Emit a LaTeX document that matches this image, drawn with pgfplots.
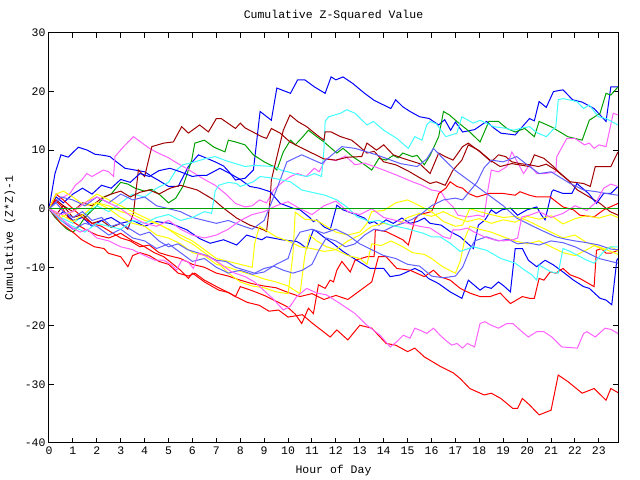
\documentclass[border=0pt]{standalone}
\usepackage{pgfplots}
\pgfplotsset{compat=1.18}
\usepackage{fontspec}
\newfontfamily\gp{Liberation Mono}
\newcommand{\gpf}{\gp\fontsize{11.5}{12}\selectfont}
\definecolor{gpred}{RGB}{255,0,0}
\definecolor{gpdred}{RGB}{160,0,0}
\definecolor{gpgreen}{RGB}{0,160,0}
\definecolor{gpblue}{RGB}{0,0,255}
\definecolor{gplblue}{RGB}{96,96,255}
\definecolor{gpmag}{RGB}{255,96,255}
\definecolor{gpcyan}{RGB}{64,255,255}
\definecolor{gpyel}{RGB}{255,255,0}
\begin{document}
\begin{tikzpicture}
\begin{axis}[name=ax, width=569pt, height=410pt, scale only axis,
  xmin=0, xmax=23.8, ymin=-40, ymax=30,
  xtick={0,1,...,23}, ytick={-40,-30,...,30},
  tick align=inside, major tick length=5pt,
  axis line style={black, line width=1pt}, tick style={black, line width=1pt},
  ticklabel style={font=\gpf}, /pgf/number format/assume math mode=true,
  every axis plot/.append style={line width=1pt, no markers, line join=miter},
  clip=true]
% B1 blue
\addplot[gpblue] coordinates {(0,0) (0.25,6) (0.5,9.2) (0.8,8.8) (1.0,9.6) (1.23,10.5) (1.6,10) (1.92,9.3) (2.3,9.1) (2.55,8.9) (2.76,8.2) (3.18,6.9) (3.6,6.6) (4.0,6.3) (4.3,5.5) (4.6,4.8) (5.0,3.8) (5.4,3.8) (5.83,7.2) (6.25,9.2) (6.6,8.6) (6.95,8.0) (7.3,7.3) (7.55,6.2) (7.8,4.9) (8.2,5.2) (8.55,6.6) (8.83,16.6) (9.3,15.1) (9.53,20.6) (10.1,19.7) (10.4,22.0) (10.7,22.0) (11.1,20.8) (11.55,19.7) (11.8,22.5) (12.0,22.0) (12.3,22.5) (12.7,21.4) (13.2,19.7) (13.6,18.5) (14.0,17.7) (14.3,17.1) (14.5,18.6) (14.8,17.4) (15.1,16.6) (15.5,15.7) (15.9,15.4) (16.3,14.3) (16.55,15.2) (16.8,13.4) (17.0,14.8) (17.3,13.1) (17.8,13.5) (18.3,14.9) (18.6,13.8) (18.9,12.9) (19.5,12.6) (20.1,15.4) (20.3,15.0) (20.5,18.3) (20.8,17.3) (21.1,20.0) (21.5,20.3) (21.9,18.6) (22.3,18.2) (22.8,17.1) (23.3,14.9) (23.5,20.8) (23.8,20.8)};
% G1 green
\addplot[gpgreen] coordinates {(0,0) (0.25,-1.5) (0.5,-2.5) (0.75,-3.5) (1.0,-4) (1.25,-3) (1.5,-1.5) (1.75,-0.5) (2.0,0.5) (2.3,2) (2.6,2.5) (3.0,4.5) (3.3,4.2) (3.6,3.5) (4.0,3.0) (4.3,3.3) (4.6,2.5) (5.0,1.0) (5.3,1.8) (5.6,3.8) (5.97,8.3) (6.1,11.2) (6.5,11.7) (6.9,10.5) (7.36,9.7) (7.5,11.7) (7.8,11.4) (8.2,10.9) (8.55,9.2) (9.0,8.0) (9.4,7.2) (9.53,6.6) (9.8,9.7) (10.1,11.7) (10.3,10.9) (10.6,12.2) (10.85,13.4) (11.2,12.3) (11.5,11.4) (12.04,9.5) (12.3,10.3) (12.7,8.9) (13.1,7.8) (13.5,6.6) (13.8,8.6) (14.1,8.3) (14.4,9.1) (14.6,8.7) (14.8,9.5) (15.2,8.9) (15.4,9.1) (15.7,7.5) (15.94,9.1) (16.3,12.3) (16.5,16.6) (16.75,16.0) (17.06,14.9) (17.6,13.1) (18.03,11.4) (18.4,14.9) (18.8,14.9) (19.15,13.7) (19.5,13.1) (19.9,13.7) (20.3,12.3) (20.5,14.9) (21.0,14.0) (21.7,12.3) (22.3,11.7) (22.6,15.1) (23.05,16.3) (23.3,19.7) (23.5,19.4) (23.8,20.8)};
% M1 magenta
\addplot[gpmag] coordinates {(0,0) (0.25,1) (0.5,1.8) (0.88,2.6) (1.1,4) (1.37,4.9) (1.58,6) (1.8,5.5) (2.27,6.6) (2.5,6.3) (2.7,5.5) (2.76,8.9) (3.1,10.5) (3.53,12.3) (3.9,11.2) (4.2,10.3) (4.57,9.5) (5.0,8.7) (5.27,8.0) (5.7,7.0) (6.1,6.0) (6.5,5.0) (6.95,4.0) (7.4,2.5) (7.8,0.9) (8.2,0.3) (8.5,0.5) (8.8,1.5) (9.1,1.0) (9.4,3.2) (9.75,4.5) (10.1,5.5) (10.4,6.0) (10.75,5.5) (11.1,6.9) (11.3,6.3) (11.6,8.6) (12.0,8.2) (12.4,9.0) (12.8,7.5) (13.2,7.8) (13.6,7.2) (14.0,6.6) (14.5,5.8) (15.2,4.6) (15.6,4.0) (16.0,3.2) (16.4,2.9) (16.6,1.5) (16.9,0.3) (17.1,-1.1) (17.5,-1.4) (17.96,-1.1) (18.2,-1.4) (18.35,3) (18.5,6.6) (18.8,6.3) (19.15,7.2) (19.36,9.7) (19.85,6.0) (20.1,7.5) (20.4,6.0) (20.75,6.0) (21.2,6.3) (21.24,8.9) (21.66,12.0) (22.0,12.0) (22.4,10.9) (22.6,11.2) (22.8,10.3) (23.0,10.9) (23.3,10.6) (23.6,16.3) (23.8,16.0)};
% C1 cyan
\addplot[gpcyan] coordinates {(0,0) (0.5,-1.5) (1.0,-2.5) (1.5,-1) (2.0,0.5) (2.5,-0.5) (3.0,1) (3.5,2.5) (4.0,2) (4.5,3.5) (5.0,4.5) (5.3,6.5) (5.6,7.5) (6.1,8.0) (6.5,8.5) (6.95,8.9) (7.4,8.2) (7.8,7.7) (8.2,7.2) (8.6,7.4) (9.0,7.3) (9.4,7.2) (9.7,6.6) (10.0,6.3) (10.4,5.8) (10.8,5.5) (11.1,6.0) (11.4,5.5) (11.5,10) (11.55,14.9) (11.7,15.7) (12.2,16.3) (12.45,16.9) (12.8,16.3) (13.3,14.3) (13.57,14.9) (14.0,13.4) (14.55,12.0) (15.03,10.3) (15.3,12.3) (15.6,11.7) (15.8,14.3) (15.94,14.9) (16.2,14.5) (16.6,12.3) (17.06,12.9) (17.27,15.7) (17.75,14.6) (18.03,15.1) (18.6,14.0) (19.0,13.8) (19.43,13.4) (19.8,13.8) (20.1,14.0) (20.4,13.0) (20.8,12.3) (21.2,14.0) (21.3,18.6) (21.5,18.8) (22.08,18.3) (22.36,17.1) (22.6,17.7) (22.98,15.7) (23.3,15.4) (23.8,14.3)};
% DR1 dark red
\addplot[gpdred] coordinates {(0,0) (0.3,1.5) (0.6,0.5) (1.0,-1.5) (1.4,-1) (1.8,-2.5) (2.2,-2) (2.6,-3.2) (3.0,-2.5) (3.3,-3.5) (3.53,-0.8) (3.74,6.6) (4.0,5.5) (4.3,10.6) (4.8,11.2) (5.2,11.4) (5.55,14.0) (5.83,12.9) (6.3,14.3) (6.67,13.1) (7.0,15.4) (7.2,15.4) (7.8,13.7) (8.0,14.6) (8.2,13.8) (8.9,12.3) (9.1,12.0) (9.3,13.7) (9.67,12.9) (10.08,11.4) (10.5,10.5) (11.0,9.5) (11.5,8.5) (12.0,8.3) (12.5,8.8) (13.08,8.9) (13.3,11.2) (13.7,10.0) (14.0,10.9) (14.4,9.2) (14.8,8.6) (15.5,7.7) (15.94,6.0) (16.3,9.5) (16.57,8.9) (16.9,8.3) (17.3,10.6) (17.54,11.2) (18.03,9.7) (18.5,8.0) (18.8,9.2) (19.1,8.9) (19.36,8.0) (19.7,7.7) (20.1,7.5) (20.47,7.2) (20.8,7.6) (21.2,6.6) (21.7,4.9) (22.1,3.2) (22.6,2.0) (23.05,0.9) (23.47,-0.5) (23.8,-1.1)};
% DR2 dark red
\addplot[gpdred] coordinates {(0,0) (0.3,-1) (0.6,0.5) (1.0,-0.5) (1.4,1) (1.8,0.5) (2.2,1.8) (2.6,2.5) (3.0,3.0) (3.4,2.0) (3.8,2.8) (4.2,3.2) (4.6,2.5) (5.06,3.5) (5.5,4.0) (5.85,3.6) (6.2,3.2) (6.9,1.5) (7.3,0.1) (7.85,-1.6) (8.4,-2.8) (8.97,-3.6) (9.1,-3.9) (9.25,1.5) (9.3,4.9) (9.5,8.3) (9.8,13.4) (10.08,16.0) (10.4,14.9) (10.78,14.0) (11.2,12.6) (11.5,11.7) (11.55,13.1) (11.8,13.1) (12.2,12.3) (12.66,11.7) (12.9,10.9) (13.3,9.5) (13.6,9.8) (14.0,8.0) (14.5,7.5) (15.0,6.5) (15.5,5.3) (15.94,4.3) (16.2,4.6) (16.57,4.0) (16.9,6.6) (17.27,8.3) (17.54,10.9) (17.96,10.0) (18.45,8.3) (18.87,7.2) (19.36,7.7) (20.1,7.2) (20.3,9.2) (20.7,8.6) (21.1,7.2) (21.4,6.0) (21.8,4.6) (22.36,4.3) (22.64,3.8) (22.85,7.2) (23.5,7.2) (23.8,9.7)};
% B2 blue
\addplot[gpblue] coordinates {(0,0) (0.3,2) (0.6,1) (1.0,2.5) (1.4,3.5) (1.8,2.5) (2.2,4) (2.6,3.5) (3.0,5) (3.4,4.5) (3.8,6) (4.2,5.5) (4.6,6.5) (5.06,6.9) (5.5,6.3) (6.0,5.5) (6.3,5.7) (6.6,5.7) (7.15,6.9) (7.57,6.0) (8.0,5.0) (8.4,3.8) (8.8,3.5) (9.25,2.9) (9.67,0.9) (10.2,0.1) (10.5,-0.2) (10.9,-1.5) (11.06,-2.2) (11.2,-1.9) (11.5,-3.1) (11.76,-3.6) (12.04,0.6) (12.3,-0.2) (12.7,-0.8) (13.2,-1.6) (13.4,-2.5) (13.6,-2.2) (13.8,-2.8) (14.1,-1.9) (14.4,-2.5) (14.76,-1.6) (15.1,-2.5) (15.4,-2.2) (15.7,-1.6) (15.94,-2.5) (16.4,-2.8) (16.78,-3.9) (17.2,-4.8) (17.75,-6.8) (17.96,-2.8) (18.24,-1.9) (18.5,-0.2) (18.7,-0.8) (18.94,-0.2) (19.3,0.1) (19.6,-1.1) (19.99,-0.2) (20.4,0.3) (20.6,-1.1) (20.75,-1.9) (21.03,2.9) (21.1,3.2) (21.5,2.6) (21.87,2.6) (22.08,4.3) (22.57,2.6) (22.9,0.9) (23.2,2.6) (23.5,2.6) (23.8,3.8)};
% B3 blue
\addplot[gpblue] coordinates {(0,0) (0.3,-1.5) (0.6,-0.5) (1.0,-2) (1.4,-1.5) (1.8,-3) (2.2,-2) (2.6,-1.5) (3.0,-2.5) (3.5,-2) (4.0,-3) (4.5,-2.2) (5.06,-2.5) (5.4,-3) (5.76,-3.6) (6.3,-5.1) (6.74,-5.9) (7.3,-5.3) (7.85,-6.2) (8.27,-4.5) (8.9,-5.3) (9.1,-4.8) (9.74,-5.3) (10.36,-5.6) (10.5,-5.9) (10.78,-6.8) (11.06,-3.6) (11.2,-3.9) (11.48,-4.8) (11.9,-6.0) (12.3,-7.3) (12.87,-8.8) (13.43,-10.2) (14.0,-10.2) (14.27,-11.6) (14.7,-11.3) (15.3,-10.2) (15.6,-10.8) (15.87,-11.9) (16.3,-12.8) (16.78,-14.2) (17.27,-15.3) (17.54,-12.2) (18.03,-13.9) (18.24,-13.3) (18.5,-13.6) (18.8,-12.5) (19.0,-13.1) (19.3,-14.2) (19.5,-6.8) (19.8,-6.8) (20.05,-8.8) (20.4,-9.9) (20.75,-8.8) (21.1,-9.6) (21.5,-10.8) (21.94,-12.2) (22.36,-13.3) (22.6,-13.6) (23.05,-15.3) (23.3,-15.6) (23.54,-16.4) (23.75,-8.8) (23.8,-8.5)};
% R1 red
\addplot[gpred] coordinates {(0,0) (0.5,-2.5) (1.0,-4) (1.37,-5.3) (1.9,-6.5) (2.3,-6.8) (2.48,-7.6) (3.0,-8.2) (3.3,-9.9) (3.5,-8) (3.8,-7.5) (4.2,-8) (4.6,-9) (5.0,-9.5) (5.4,-11) (5.83,-11.5) (6.1,-11) (6.5,-12.2) (7.1,-13.5) (7.5,-14.3) (7.8,-15) (8.3,-16) (8.8,-16.5) (9.2,-17.5) (9.6,-17.3) (10.0,-18.5) (10.6,-18.1) (11.0,-19.5) (11.76,-21.9) (12.04,-20.7) (12.5,-22.4) (13.0,-19.9) (13.5,-20.4) (14.1,-23) (14.5,-23.3) (15.0,-24.4) (15.3,-23.8) (15.7,-25.3) (16.4,-27) (16.9,-28) (17.2,-29) (17.6,-30.7) (18.2,-31.8) (18.5,-31.5) (18.9,-32.4) (19.4,-34.1) (19.6,-34.1) (19.8,-32.4) (20.1,-33.5) (20.5,-35.2) (21.0,-34.4) (21.3,-28.4) (21.7,-29.5) (22.3,-31.5) (22.8,-30.7) (23.3,-32.7) (23.5,-30.7) (23.8,-31.4)};
% R2 red
\addplot[gpred] coordinates {(0,0) (0.25,1.5) (0.5,0.5) (0.8,-1.5) (1.1,-2.5) (1.5,-3.5) (2.0,-4.5) (2.5,-5.0) (3.0,-4.2) (3.5,-5.5) (4.0,-6.5) (4.4,-7.5) (4.8,-8.2) (5.2,-9.5) (5.5,-10.5) (5.83,-11.9) (6.0,-11.0) (6.5,-12.5) (7.1,-13.9) (7.5,-14.3) (7.8,-15.0) (8.0,-13.3) (8.5,-14.0) (9.0,-14.8) (9.4,-15.6) (9.95,-16.7) (10.3,-18.0) (10.57,-19.6) (10.85,-17) (11.06,-17.9) (11.27,-13) (11.55,-13.6) (11.76,-12.2) (11.9,-12.5) (12.04,-10.5) (12.25,-9) (12.6,-10.8) (12.8,-8.8) (13.3,-8.2) (13.6,-8.2) (13.65,-3.6) (14.1,-3.9) (14.55,-4.8) (14.8,-5.3) (15.03,-6.2) (15.3,-1.9) (15.45,-1.1) (15.7,-0.8) (16.0,-0.5) (16.15,0.9) (16.3,2.6) (16.6,3.5) (16.78,4.6) (17.06,3.8) (17.3,3.5) (17.54,2.6) (17.9,2.0) (18.4,2.6) (19.0,2.6) (19.5,2.3) (19.7,2.9) (20.1,2.3) (20.4,2.0) (20.96,2.0) (21.5,0.3) (21.94,-0.2) (22.2,-1.1) (22.8,-1.4) (23.2,-0.2) (23.8,0.9)};
% R3 red
\addplot[gpred] coordinates {(0,0) (0.3,2.5) (0.6,1.5) (1.0,0) (1.4,-1.5) (1.8,-2.5) (2.2,-3) (2.6,-4) (3.0,-5) (3.4,-5.5) (3.8,-6.5) (4.2,-6.2) (4.6,-7.5) (5.0,-8) (5.5,-8.5) (6.0,-9.5) (6.5,-10) (7.0,-11) (7.5,-11.5) (8.0,-12.2) (8.5,-12.8) (9.0,-13.2) (9.5,-13.5) (10.0,-14.3) (10.5,-15) (11.0,-14.5) (11.5,-15.5) (12.0,-14.8) (12.5,-15.5) (13.0,-14) (13.5,-12.5) (13.78,-8.2) (14.1,-8.2) (14.55,-10.2) (15.1,-10.5) (15.7,-11.6) (16.08,-10.5) (16.36,-11.6) (16.78,-12.2) (17.2,-13.6) (17.6,-14.4) (18.03,-15.0) (18.45,-15.0) (18.87,-14.4) (19.3,-16.2) (19.8,-15.0) (20.1,-15.3) (20.3,-15.3) (20.5,-11.9) (20.7,-12.2) (20.96,-10.8) (21.2,-11.0) (21.5,-10.2) (21.8,-11.3) (22.2,-11.9) (22.8,-13.3) (22.9,-7.1) (23.1,-6.8) (23.3,-7.6) (23.5,-7.6) (23.8,-7.1)};
% Y1 yellow
\addplot[gpyel] coordinates {(0,0) (0.3,2.5) (0.6,3) (1.0,2) (1.5,0.5) (2.0,1) (2.5,0) (3.0,-1.5) (3.5,-2.5) (4.0,-3) (4.5,-4.5) (5.0,-5) (5.5,-6) (6.0,-7.5) (6.5,-8) (7.0,-9.5) (7.5,-10) (8.0,-10.7) (8.5,-11.3) (9.0,-12) (9.5,-12.5) (10.0,-13.2) (10.3,-14) (10.5,-14.5) (10.7,-8) (10.9,-4.5) (11.2,-5.5) (11.6,-6.5) (12.0,-7) (12.5,-8) (13.0,-8.5) (13.3,-9.5) (13.5,-6) (13.9,-6.3) (14.3,-5.5) (14.8,-6.5) (15.2,-7.5) (15.7,-7.8) (16.0,-8.5) (16.5,-10) (17.0,-11) (17.2,-9) (17.4,-5) (17.6,-3) (18.0,-3.5) (18.5,-4) (19.0,-4.8) (19.5,-5.5) (20.0,-6) (20.5,-5.5) (21.0,-6.5) (21.5,-7.5) (22.0,-8) (22.5,-7) (22.8,-6.3) (23.2,-7) (23.5,-6.5) (23.8,-7.2)};
% Y2 yellow
\addplot[gpyel] coordinates {(0,0) (0.5,-1) (1.0,-2.2) (1.5,-0.8) (2.0,1) (2.5,0.5) (3.0,-0.5) (3.5,-1) (4.0,-2) (4.5,-2.5) (5.0,-3.5) (5.5,-4.5) (6.0,-5.5) (6.5,-7) (7.0,-8.5) (7.5,-9) (8.0,-9.5) (8.5,-10) (8.6,-6) (8.8,-3) (9.0,-3.5) (9.5,-4.8) (10.0,-5.5) (10.5,-6.5) (11.0,-6.8) (11.5,-7.3) (12.0,-7) (12.5,-5.5) (13.0,-4.5) (13.5,-3) (14.0,-2.5) (14.5,-3) (15.0,-1.5) (15.5,-0.8) (16.0,-1.3) (16.5,-0.5) (17.0,-1.5) (17.5,-2.2) (18.0,-1.7) (18.5,-2.5) (19.0,-1.9) (19.5,-2.3) (20.0,-1.3) (20.5,-1.8) (21.0,-1.2) (21.5,-2.6) (22.0,-1.7) (22.5,-1.2) (23.0,-1.6) (23.5,-1.0) (23.8,-1.5)};
% Y3 yellow
\addplot[gpyel] coordinates {(0,0) (0.5,-1.5) (1.0,-0.5) (1.5,1) (2.0,2.5) (2.5,1.5) (3.0,0.5) (3.5,-0.5) (4.0,-1.5) (4.5,-2.5) (5.0,-3.5) (5.5,-5) (6.0,-6) (6.5,-7.5) (7.0,-9) (7.5,-11) (8.0,-12.5) (8.5,-13.2) (9.0,-13.5) (9.5,-14.2) (10.0,-14.5) (10.2,-8) (10.3,-0.6) (10.7,-1.8) (11.2,-2) (11.6,-3) (12.0,-4) (12.5,-4.5) (13.0,-4) (13.3,-2.5) (13.5,-0.5) (14.0,-0.3) (14.5,1) (15.0,1.5) (15.5,0.5) (16.0,-0.5) (16.5,-2.2) (17.0,-3) (17.3,-2.8) (17.6,0) (18.0,-0.5) (18.5,-1) (19.0,-1.5) (19.5,-1.3) (20.0,-2) (20.5,-3) (21.0,-4) (21.5,-5) (22.0,-4.5) (22.5,-5.8) (23.0,-6.5) (23.5,-7.3) (23.8,-7.8)};
% LB1 light blue
\addplot[gplblue] coordinates {(0,0) (0.3,1) (0.6,-0.5) (1.0,-1.5) (1.4,-0.5) (1.8,-2) (2.2,-1.5) (2.6,-3) (3.0,-2.5) (3.4,-3.5) (3.8,-4.5) (4.2,-4) (4.6,-5.5) (5.0,-6.5) (5.4,-6) (5.8,-7) (6.2,-7.5) (6.6,-8) (7.0,-8.8) (7.4,-9) (7.8,-10) (8.2,-10.5) (8.6,-11) (9.0,-10.2) (9.4,-9.8) (9.8,-10.5) (10.2,-11) (10.6,-10.5) (11.0,-9.5) (11.3,-7) (11.6,-5) (12.0,-5.5) (12.4,-6.5) (12.8,-6) (13.2,-4.5) (13.6,-3.5) (14.0,-3.8) (14.4,-3) (14.8,-2.5) (15.2,-1.8) (15.6,-0.8) (16.0,0.5) (16.5,1.5) (17.0,1.8) (17.3,1.5) (17.6,3) (17.9,4.5) (18.2,7) (18.5,8.3) (19.0,8.0) (19.56,8.9) (20.1,7.2) (20.5,6.0) (21.0,6.3) (21.8,4.3) (22.36,3.2) (22.9,2.9) (23.3,2.6) (23.8,2.3)};
% LB2 light blue
\addplot[gplblue] coordinates {(0,0) (0.5,2) (1.0,1.5) (1.5,0.5) (2.0,2) (2.5,1) (3.0,2.5) (3.5,1.5) (4.0,2) (4.5,0.5) (5.0,0) (5.5,-0.5) (6.0,-1.5) (6.5,-2) (7.0,-2.5) (7.5,-2) (8.0,-2.8) (8.5,-3.5) (9.0,-2) (9.3,1) (9.67,4.9) (9.95,8.0) (10.57,9.2) (11.4,7.7) (12.25,10.6) (12.8,10.3) (13.7,9.2) (14.7,7.7) (15.4,7.2) (15.8,8.5) (16.08,10.3) (16.5,8.5) (17.0,6.5) (17.9,3.8) (18.5,2.0) (19.0,0.5) (19.56,-1.6) (20.0,-2.5) (20.5,-3.5) (21.2,-4.8) (21.6,-5.2) (22.0,-5.5) (22.5,-5.8) (23.0,-6.2) (23.5,-6.9) (23.8,-7.0)};
% LB3 light blue
\addplot[gplblue] coordinates {(0,0) (0.5,-2) (1.0,-3.5) (1.5,-2.5) (2.0,-3) (2.5,-4.5) (3.0,-3.5) (3.5,-5) (4.0,-5.5) (4.5,-6.8) (5.0,-6) (5.5,-7.5) (6.0,-9) (6.5,-8.5) (7.0,-10) (7.5,-11) (8.0,-10.5) (8.5,-11.2) (9.0,-10.8) (9.5,-9.5) (10.0,-8.5) (10.2,-6) (10.5,-4) (11.0,-3.5) (11.5,-4.2) (12.0,-3.5) (12.5,-4.5) (13.0,-6) (13.5,-7) (14.0,-8) (14.5,-8.5) (15.0,-9.5) (15.5,-9.8) (16.0,-11.5) (16.5,-11.8) (17.0,-11.5) (17.3,-10) (17.6,-7) (17.8,-5.5) (18.3,-4.8) (18.8,-5.5) (19.2,-5.2) (19.6,-6) (20.0,-5.8) (20.5,-6.2) (21.0,-5.5) (21.5,-5.8) (22.0,-6.5) (22.5,-7.5) (23.0,-8.5) (23.5,-9) (23.8,-9.3)};
% C2 cyan
\addplot[gpcyan] coordinates {(0,0) (0.5,-2) (1.0,-3) (1.5,-4) (2.0,-2.5) (2.5,-3) (3.0,-3.5) (3.5,-2) (4.0,-2.5) (4.5,-1.5) (5.0,-1) (5.5,-2) (6.0,-1.5) (6.5,-0.5) (6.8,-0.8) (6.95,3) (7.1,4) (7.5,4.5) (7.85,4.3) (8.0,3.8) (8.55,4.6) (8.83,5.5) (9.4,5.2) (10.1,4.6) (10.57,3.2) (11.0,2.8) (11.55,2.3) (12.04,1.5) (12.46,0.3) (12.9,-1.4) (13.43,-2.2) (13.8,-2.0) (14.27,-2.8) (14.97,-3.4) (15.66,-4.2) (16.0,-4.8) (16.36,-4.8) (16.78,-5.9) (17.2,-7.3) (17.75,-6.5) (18.3,-7.1) (18.9,-8.5) (19.5,-9.3) (19.9,-10.5) (20.2,-11.3) (20.4,-12.2) (20.5,-9.6) (21.0,-10.8) (21.3,-11.0) (21.5,-6.8) (21.8,-7.3) (22.5,-8.8) (22.8,-9.3) (23.2,-7.3) (23.5,-6.5) (23.8,-6.5)};
% M2 magenta
\addplot[gpmag] coordinates {(0,0) (0.3,-1) (0.6,-2) (1.0,-3.3) (1.3,-4) (1.6,-3.5) (2.0,-5) (2.5,-5.5) (3.0,-6.5) (3.5,-7) (4.0,-8) (4.44,-8.8) (4.8,-8.8) (5.13,-9.6) (5.34,-10.5) (5.55,-8.8) (5.8,-9) (6.04,-10.2) (6.25,-7.6) (6.67,-8.2) (7.1,-9.2) (7.64,-10.8) (8.2,-11.6) (8.6,-12.5) (9.0,-14) (9.4,-15.5) (9.8,-17.3) (10.08,-16.7) (10.36,-15.0) (10.78,-13.6) (11.2,-14.4) (11.6,-14.7) (12.18,-16.2) (12.8,-17.9) (13.3,-19.9) (13.85,-21.6) (14.27,-23.6) (14.55,-22.7) (14.82,-21.6) (15.1,-22.1) (15.3,-20.4) (15.55,-20.8) (15.8,-21.3) (16.08,-20.4) (16.36,-21.6) (16.57,-22.4) (16.85,-23.3) (17.06,-23.0) (17.3,-23.8) (17.5,-23.0) (17.8,-23.6) (18.03,-19.6) (18.24,-19.3) (18.5,-19.9) (18.8,-20.4) (19.15,-19.6) (19.4,-19.6) (19.7,-20.7) (20.05,-21.9) (20.4,-21.0) (20.7,-21.0) (21.03,-21.9) (21.45,-23.6) (22.1,-23.8) (22.36,-21.3) (22.5,-21.0) (22.85,-21.9) (23.26,-20.4) (23.5,-20.6) (23.8,-21.3)};
% M4 magenta
\addplot[gpmag] coordinates {(0,0) (0.5,-1) (1.0,-0.5) (1.5,1) (2.0,2) (2.5,1) (3.0,0) (3.5,-1.5) (4.0,-2.5) (4.5,-3) (5.0,-2) (5.5,-3.5) (6.0,-4.5) (6.5,-5) (7.0,-4.5) (7.5,-3.5) (8.0,-2) (8.5,-1) (9.0,-0.5) (9.5,0.5) (10.0,1.2) (10.5,0) (11.0,-1) (11.5,0.5) (12.0,1.3) (12.5,-0.5) (13.0,-1) (13.5,0) (14.0,-1.5) (14.5,-2) (15.0,-2.5) (15.5,-3) (15.94,-3.3) (16.5,-4.8) (16.78,-5.1) (16.9,-3.6) (17.2,-3.6) (17.5,-3.3) (17.75,-3.9) (18.2,-4.8) (18.6,-5.3) (19.0,-5.5) (19.4,-5.3) (19.6,-5.0) (19.78,-1.4) (20.1,-1.1) (20.5,-0.5) (21.0,-1.5) (21.5,-0.8) (22.0,0.5) (22.5,-0.3) (22.9,1.2) (23.2,3.5) (23.5,4.2) (23.8,3.8)};
% zero line
\addplot[gpgreen] coordinates {(0,0) (23.8,0)};
\end{axis}
\node[font=\gpf] at ([yshift=17pt]ax.north) {Cumulative Z-Squared Value};
\node[font=\gpf] at ([yshift=-28pt]ax.south) {Hour of Day};
\node[font=\gpf, rotate=90] at ([xshift=-39pt]ax.west) {Cumulative (Z*Z)-1};
\path[use as bounding box] ([xshift=-49pt,yshift=-37pt]ax.south west) rectangle ([xshift=22pt,yshift=33pt]ax.north east);
\end{tikzpicture}
\end{document}
